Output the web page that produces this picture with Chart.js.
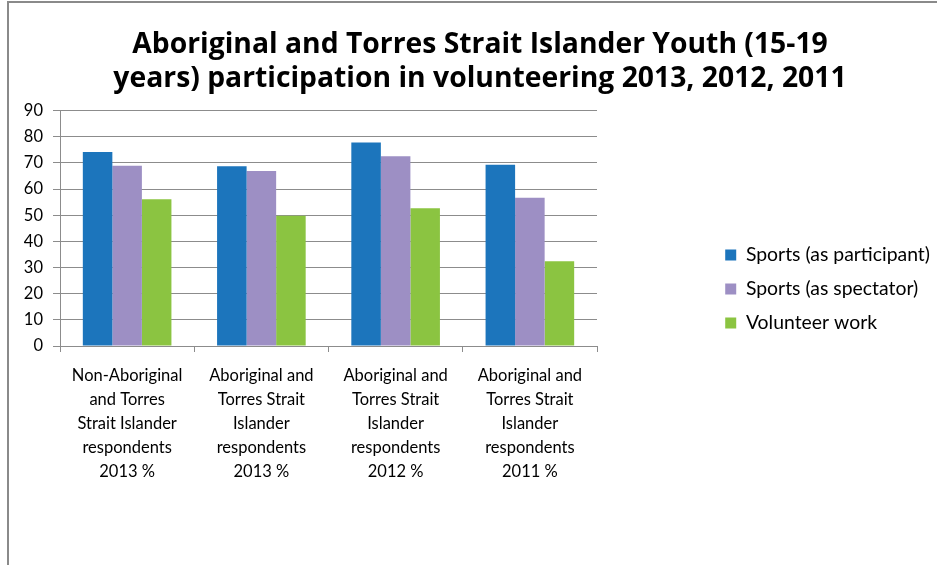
<!DOCTYPE html>
<html>
<head>
<meta charset="utf-8">
<script src="https://cdn.jsdelivr.net/npm/chart.js@4/dist/chart.umd.min.js"></script>
<style>
  html, body { margin: 0; padding: 0; background: #fff; }
  #wrap { width: 937px; height: 565px; }
</style>
</head>
<body>
<div id="wrap"><canvas id="chart" width="937" height="565"></canvas></div>
<script>
const categories = [
    ['Non-Aboriginal', 'and Torres', 'Strait Islander', 'respondents', '2013 %'],
    ['Aboriginal and', 'Torres Strait', 'Islander', 'respondents', '2013 %'],
    ['Aboriginal and', 'Torres Strait', 'Islander', 'respondents', '2012 %'],
    ['Aboriginal and', 'Torres Strait', 'Islander', 'respondents', '2011 %']
];
const seriesNames = ['Sports (as participant)', 'Sports (as spectator)', 'Volunteer work'];
const participant = [74.2, 68.7, 77.8, 69.3];
const spectator = [68.9, 66.9, 72.5, 56.7];
const volunteer = [56.1, 49.8, 52.7, 32.4];
const yMin = 0, yMax = 90, yStep = 10;
const titleLines = [
    'Aboriginal and Torres Strait Islander Youth (15-19',
    'years) participation in volunteering 2013, 2012, 2011'
];

const tickFont = { family: 'Lato', size: 16.5, lineHeight: 1.45 };
const legendFont = { family: 'Lato', size: 19.4 };
const gray = '#8c8c8c';
const padRight = -3;

// grey frame round the chart (top and left edges show in the picture)
const framePlugin = {
    id: 'frame',
    beforeDraw(chart) {
        const ctx = chart.ctx;
        ctx.save();
        ctx.fillStyle = '#fff';
        ctx.fillRect(0, 0, chart.width, chart.height);
        ctx.strokeStyle = '#8a8a8a';
        ctx.lineWidth = 2;
        ctx.beginPath();
        ctx.moveTo(8, chart.height);
        ctx.lineTo(8, 2);
        ctx.lineTo(chart.width, 2);
        ctx.stroke();
        ctx.restore();
    }
};

// the title is centred a bit right of the canvas middle
const titleShift = {
    id: 'titleShift',
    afterLayout(chart) {
        const t = chart.titleBlock;
        if (t) { t.left += 10; t.right += 10; }
    }
};

const config = {
    type: 'bar',
    data: {
        labels: categories,
        datasets: [
            { label: seriesNames[0], data: participant, backgroundColor: '#1c75bc' },
            { label: seriesNames[1], data: spectator, backgroundColor: '#9d8fc4' },
            { label: seriesNames[2], data: volunteer, backgroundColor: '#8bc441' }
        ]
    },
    options: {
        responsive: false,
        animation: false,
        devicePixelRatio: 1,
        barPercentage: 1,
        categoryPercentage: 0.66,
        layout: { padding: { top: 13, left: 0, right: padRight, bottom: 0 } },
        plugins: {
            title: {
                display: true,
                text: titleLines,
                color: '#000',
                font: { family: 'Open Sans', size: 28.3, weight: 'bold', lineHeight: 1.22 },
                padding: { top: 14.5, bottom: 14 }
            },
            legend: {
                position: 'right',
                maxWidth: 400,
                labels: {
                    boxWidth: 11,
                    boxHeight: 11,
                    padding: 14.6,
                    color: '#000',
                    font: legendFont
                }
            },
            tooltip: { enabled: false }
        },
        scales: {
            x: {
                grid: { display: true, drawOnChartArea: false, drawTicks: true, tickLength: 6, color: gray, offset: true },
                border: { color: gray },
                ticks: { color: '#000', font: tickFont, padding: 12, maxRotation: 0, autoSkip: false },
                afterFit(s) { s.height = 219; }
            },
            y: {
                min: yMin,
                max: yMax,
                grid: { color: gray, tickLength: 7 },
                border: { color: gray },
                ticks: { stepSize: yStep, color: '#000', font: tickFont, padding: 10, autoSkip: false },
                afterFit(s) { s.width = 60; }
            },
            spacer: {
                type: 'linear',
                position: 'right',
                display: true,
                grid: { display: false },
                border: { display: false },
                ticks: { display: false },
                afterFit(s) { s.width = s.chart.width - padRight - s.chart.legend.width - 597; }
            }
        }
    },
    plugins: [framePlugin, titleShift]
};

const chart = new Chart(document.getElementById('chart').getContext('2d'), config);
</script>
</body>
</html>
